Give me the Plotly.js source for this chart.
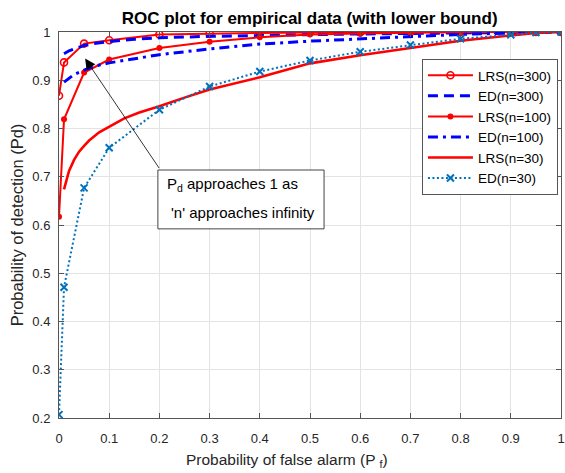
<!DOCTYPE html>
<html>
<head>
<meta charset="utf-8">
<script src="https://cdn.plot.ly/plotly-3.0.1.min.js"></script>
<style>html,body{margin:0;padding:0;background:#fff;}#chart{width:565px;height:473px;}</style>
</head>
<body>
<div id="chart"></div>
<script>
// Marker grid (probability of false alarm)
const pfMarkers = [0, 0.01, 0.05, 0.1, 0.2, 0.3, 0.4, 0.5, 0.6, 0.7, 0.8, 0.9, 0.95, 1];
const lrs300 = [0.868, 0.937, 0.976, 0.983, 0.995, 0.997, 0.998, 0.999, 0.999, 0.9995, 1, 1, 1, 1];
const lrs100 = [0.617, 0.819, 0.916, 0.943, 0.967, 0.980, 0.989, 0.995, 0.997, 0.999, 1, 1, 1, 1];
const ed30   = [0.207, 0.471, 0.677, 0.760, 0.839, 0.887, 0.918, 0.941, 0.959, 0.973, 0.986, 0.994, 0.999, 1];

// Smooth curves
const pfLrs30 = [0.01, 0.02, 0.03, 0.04, 0.05, 0.06, 0.08, 0.1, 0.13, 0.16, 0.2, 0.25, 0.3, 0.4, 0.5, 0.6, 0.7, 0.8, 0.9, 0.95, 1];
const lrs30   = [0.674, 0.712, 0.735, 0.752, 0.764, 0.775, 0.792, 0.804, 0.821, 0.833, 0.846, 0.864, 0.881, 0.906, 0.935, 0.952, 0.967, 0.982, 0.993, 0.998, 1];

const pfEd = [0.01, 0.02, 0.03, 0.05, 0.07, 0.1, 0.15, 0.2, 0.3, 0.4, 0.5, 0.6, 0.7, 0.8, 0.9, 1];
const ed300 = [0.955, 0.961, 0.965, 0.972, 0.976, 0.980, 0.985, 0.988, 0.991, 0.993, 0.995, 0.996, 0.997, 0.998, 0.999, 1];
const ed100 = [0.896, 0.905, 0.912, 0.921, 0.929, 0.936, 0.945, 0.953, 0.965, 0.975, 0.981, 0.986, 0.991, 0.995, 0.998, 1];

const seriesNames = ['LRS(n=300)', 'ED(n=300)', 'LRS(n=100)', 'ED(n=100)', 'LRS(n=30)', 'ED(n=30)'];

const FONT = '"Liberation Sans", Arial, Helvetica, sans-serif';
const RED = '#ff0000', BLUE = '#0000ff', MBLUE = '#0072BD';

const traces = [
  {x: pfMarkers, y: lrs300, name: seriesNames[0], mode: 'lines+markers',
   line: {color: RED, width: 2},
   marker: {symbol: 'circle-open', size: 7, color: RED, line: {color: RED, width: 1.6}}},
  {x: pfEd, y: ed300, name: seriesNames[1], mode: 'lines',
   line: {color: BLUE, width: 3, dash: '10px,6px'}},
  {x: pfMarkers, y: lrs100, name: seriesNames[2], mode: 'lines+markers',
   line: {color: RED, width: 2},
   marker: {symbol: 'circle', size: 6, color: RED}},
  {x: pfEd, y: ed100, name: seriesNames[3], mode: 'lines',
   line: {color: BLUE, width: 3, dash: '10px,5px,3px,5px'}},
  {x: pfLrs30, y: lrs30, name: seriesNames[4], mode: 'lines',
   line: {color: RED, width: 2.6}},
  {x: pfMarkers, y: ed30, name: seriesNames[5], mode: 'lines+markers',
   line: {color: MBLUE, width: 2, dash: '2px,2.5px'},
   marker: {symbol: 'x-thin', size: 7, color: MBLUE, line: {color: MBLUE, width: 2}}}
];

const axisCommon = {
  showline: true, mirror: 'ticks', linecolor: '#555', linewidth: 1,
  ticks: 'inside', ticklen: 5, tickcolor: '#555', tickwidth: 1,
  showgrid: true, gridcolor: '#e3e3e3', gridwidth: 1, zeroline: false,
  tickfont: {family: FONT, size: 13, color: '#262626'}
};

const layout = {
  width: 565, height: 473,
  margin: {l: 59, r: 4, t: 32, b: 55},
  paper_bgcolor: '#fff', plot_bgcolor: '#fff',
  font: {family: FONT, color: '#262626'},
  title: {text: '<b>ROC plot for empirical data (with lower bound)</b>',
          font: {family: FONT, size: 17, color: '#000'}, x: 0.548, xanchor: 'center',
          y: 0.962, yanchor: 'middle'},
  xaxis: Object.assign({}, axisCommon, {
    range: [0, 1], dtick: 0.1, tick0: 0, ticklabelstandoff: 8
  }),
  yaxis: Object.assign({}, axisCommon, {
    range: [0.2, 1], dtick: 0.1, tick0: 0.2, ticklabelstandoff: 5,
    title: {text: 'Probability of detection (Pd)', font: {family: FONT, size: 16.5, color: '#262626'}, standoff: 4}
  }),
  showlegend: true,
  legend: {x: 0.723, y: 0.93, xanchor: 'left', yanchor: 'top',
           bgcolor: '#fff', bordercolor: '#555', borderwidth: 1,
           font: {family: FONT, size: 13.5, color: '#000'}, itemwidth: 45,
           tracegroupgap: 0},
  shapes: [
    {type: 'rect', xref: 'x', yref: 'y', x0: 0.197, x1: 0.528, y0: 0.592, y1: 0.714,
     fillcolor: '#fff', line: {color: '#444', width: 1}, layer: 'above'}
  ],
  annotations: [
    {x: 0.052, y: 0.945, xref: 'x', yref: 'y', text: '', showarrow: true,
     ax: 75, ay: 111, arrowcolor: '#000', arrowwidth: 0.8, arrowhead: 2, arrowsize: 2.6, standoff: 0},
    {x: 0.213, y: 0.683, xref: 'x', yref: 'y', text: 'P<sub>d</sub> approaches 1 as',
     showarrow: false, xanchor: 'left', yanchor: 'middle', borderpad: 0,
     font: {family: FONT, size: 15, color: '#000'}},
    {x: 0.221, y: 0.626, xref: 'x', yref: 'y', text: '\'n\' approaches infinity',
     showarrow: false, xanchor: 'left', yanchor: 'middle', borderpad: 0,
     font: {family: FONT, size: 15, color: '#000'}},
    {x: 0.454, y: -0.11, xref: 'paper', yref: 'paper', text: 'Probability of false alarm (P <sub>f</sub>)',
     showarrow: false, xanchor: 'center', yanchor: 'middle',
     font: {family: FONT, size: 15.5, color: '#262626'}}
  ]
};

Plotly.newPlot('chart', traces, layout, {displayModeBar: false, responsive: false});
</script>
</body>
</html>
